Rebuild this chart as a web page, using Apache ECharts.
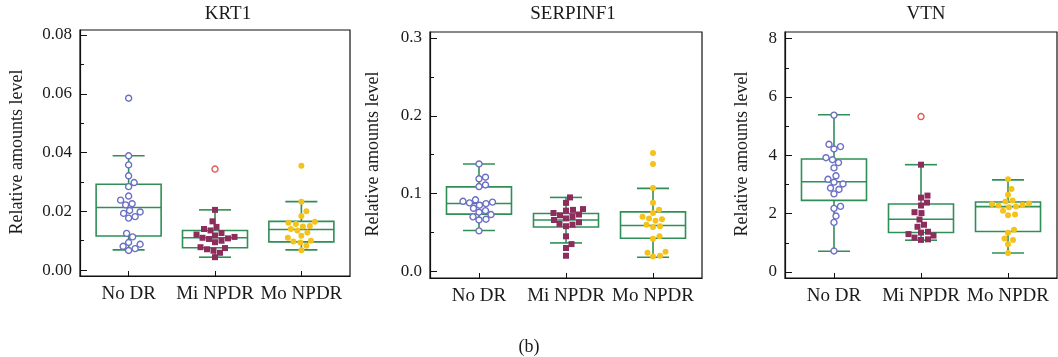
<!DOCTYPE html>
<html><head><meta charset="utf-8">
<script src="https://cdn.jsdelivr.net/npm/echarts@6/dist/echarts.min.js"></script>
<style>html,body{margin:0;padding:0;background:#fff}#c{width:1058px;height:357px}</style>
</head><body><div id="c"></div>
<script>
const categories = ['No DR', 'Mi NPDR', 'Mo NPDR'];
const panelTitles = ['KRT1', 'SERPINF1', 'VTN'];
const yAxisTitle = 'Relative amounts level';
const caption = '(b)';

// KRT1
const krt1NoDR = [0.0585, 0.0389, 0.0358, 0.0321, 0.0298, 0.0284, 0.0252, 0.0238, 0.0226, 0.0222, 0.0203, 0.0198, 0.0193, 0.0182, 0.0177, 0.0125, 0.0113, 0.0094, 0.0088, 0.0081, 0.0073, 0.0067];
const krt1MiNPDR = [0.0205, 0.0166, 0.0147, 0.0140, 0.0135, 0.0126, 0.0121, 0.0118, 0.0113, 0.0110, 0.0108, 0.0106, 0.0100, 0.0095, 0.0078, 0.0075, 0.0071, 0.0066, 0.0059, 0.0044];
const krt1MoNPDR = [0.0355, 0.0233, 0.0200, 0.0184, 0.0165, 0.0161, 0.0157, 0.0150, 0.0148, 0.0140, 0.0135, 0.0128, 0.0117, 0.0110, 0.0100, 0.0097, 0.0094, 0.0083, 0.0068];
const krt1Boxes = [[0.0069, 0.0116, 0.0213, 0.0292, 0.0389], [0.0044, 0.0076, 0.0110, 0.0135, 0.0205], [0.0069, 0.0096, 0.0138, 0.0166, 0.0233]];
const krt1Outliers = [[2, 0.0344]];
const krt1Ticks = [0, 0.02, 0.04, 0.06, 0.08];
const krt1MinorTicks = [0.01, 0.03, 0.05, 0.07];

// SERPINF1
const serpNoDR = [0.138, 0.121, 0.119, 0.111, 0.109, 0.092, 0.090, 0.089, 0.088, 0.087, 0.085, 0.081, 0.078, 0.076, 0.073, 0.070, 0.067, 0.066, 0.052];
const serpMiNPDR = [0.095, 0.088, 0.080, 0.079, 0.078, 0.075, 0.073, 0.072, 0.070, 0.068, 0.066, 0.063, 0.061, 0.060, 0.058, 0.045, 0.035, 0.030, 0.020];
const serpMoNPDR = [0.152, 0.138, 0.107, 0.088, 0.079, 0.075, 0.070, 0.068, 0.067, 0.065, 0.060, 0.058, 0.057, 0.045, 0.042, 0.025, 0.024, 0.020, 0.019];
const serpBoxes = [[0.0524, 0.0735, 0.0872, 0.1086, 0.138], [0.0365, 0.057, 0.066, 0.0743, 0.095], [0.018, 0.0425, 0.0589, 0.0764, 0.1066]];
const serpOutliers = [];
const serpTicks = [0, 0.1, 0.2, 0.3];
const serpMinorTicks = [0.05, 0.15, 0.25];

// VTN
const vtnNoDR = [5.38, 4.38, 4.30, 4.22, 3.92, 3.85, 3.75, 3.57, 3.30, 3.18, 3.08, 3.02, 2.88, 2.83, 2.68, 2.25, 2.18, 1.92, 1.70, 0.72];
const vtnMiNPDR = [3.68, 2.62, 2.55, 2.38, 2.28, 2.05, 2.02, 1.80, 1.62, 1.55, 1.38, 1.35, 1.30, 1.25, 1.18, 1.12, 1.10];
const vtnMoNPDR = [3.18, 2.85, 2.65, 2.45, 2.42, 2.35, 2.33, 2.30, 2.28, 2.25, 2.22, 2.10, 1.97, 1.95, 1.45, 1.35, 1.15, 1.10, 0.95, 0.65];
const vtnBoxes = [[0.71, 2.455, 3.095, 3.875, 5.39], [1.09, 1.355, 1.81, 2.33, 3.68], [0.65, 1.39, 2.24, 2.40, 3.16]];
const vtnOutliers = [[2, 5.33]];
const vtnTicks = [0, 2, 4, 6, 8];
const vtnMinorTicks = [1, 3, 5, 7];

const panels = [
  {groups: [krt1NoDR, krt1MiNPDR, krt1MoNPDR], boxes: krt1Boxes, outliers: krt1Outliers, ticks: krt1Ticks, minor: krt1MinorTicks,
   digits: 2, yMin: -0.0020, yMax: 0.0817, left: 80, top: 30, width: 270, height: 246, titleX: 228, nameX: 17.5},
  {groups: [serpNoDR, serpMiNPDR, serpMoNPDR], boxes: serpBoxes, outliers: serpOutliers, ticks: serpTicks, minor: serpMinorTicks,
   digits: 1, yMin: -0.0086, yMax: 0.3077, left: 430, top: 32, width: 272, height: 246, titleX: 573, nameX: 373.5},
  {groups: [vtnNoDR, vtnMiNPDR, vtnMoNPDR], boxes: vtnBoxes, outliers: vtnOutliers, ticks: vtnTicks, minor: vtnMinorTicks,
   digits: 0, yMin: -0.206, yMax: 8.23, left: 785, top: 32, width: 272, height: 246, titleX: 926, nameX: 742.5}
];

const FONT = '"Liberation Serif", "DejaVu Serif", serif';
const TXT = '#1a1a1a';
const BOX_COLOR = '#2f8f57';
const groupStyles = [
  {symbol: 'circle', color: '#ffffff', border: '#6b6fc4', borderWidth: 1.4, size: 6},
  {symbol: 'rect', color: '#8c2d5c', border: '#8c2d5c', borderWidth: 0, size: 6},
  {symbol: 'circle', color: '#f4c21b', border: '#f4c21b', borderWidth: 0, size: 6}
];
const X_MIN = 0.437, X_MAX = 3.563;

function swarmOffsets(values, pxPerUnit, d) {
  const order = values.map((v, i) => i).sort((a, b) => values[a] - values[b]);
  const placed = [];
  const off = new Array(values.length).fill(0);
  for (const i of order) {
    const y = values[i] * pxPerUnit;
    let best = 0;
    for (let s = 0; s < 400; s++) {
      const cand = s === 0 ? 0 : (s % 2 ? 1 : -1) * Math.ceil(s / 2) * 0.5;
      let ok = true;
      for (const p of placed) {
        const dx = cand - p.x, dy = y - p.y;
        if (dx * dx + dy * dy < d * d) { ok = false; break; }
      }
      if (ok) { best = cand; break; }
    }
    placed.push({x: best, y: y});
    off[i] = best;
  }
  return off;
}

const grids = [], xAxes = [], yAxes = [], series = [], graphics = [];
panels.forEach((p, k) => {
  grids.push({left: p.left, top: p.top, width: p.width, height: p.height, show: true,
    borderColor: '#111', borderWidth: 1.2, backgroundColor: 'transparent'});
  xAxes.push({type: 'value', gridIndex: k, min: X_MIN, max: X_MAX, splitLine: {show: false},
    axisLine: {show: true, onZero: false, lineStyle: {color: '#111', width: 1.2}},
    axisTick: {show: true, inside: true, length: 5, customValues: [1, 2, 3], lineStyle: {color: '#111'}},
    axisLabel: {show: true, customValues: [1, 2, 3], margin: 9, color: TXT, fontFamily: FONT, fontSize: 19,
      formatter: v => categories[Math.round(v) - 1] || ''}});
  yAxes.push({type: 'value', gridIndex: k, position: 'left', min: p.yMin, max: p.yMax, splitLine: {show: false},
    axisLine: {show: true, onZero: false, lineStyle: {color: '#111', width: 1.2}},
    axisTick: {show: true, inside: true, length: 7, customValues: p.ticks, lineStyle: {color: '#111'}},
    axisLabel: {show: true, customValues: p.ticks, margin: 8, color: TXT, fontFamily: FONT, fontSize: 17,
      formatter: v => Number(v).toFixed(p.digits)}});
  yAxes.push({type: 'value', gridIndex: k, position: 'left', min: p.yMin, max: p.yMax, splitLine: {show: false},
    axisLine: {show: false},
    axisTick: {show: true, inside: true, length: 4, customValues: p.minor, lineStyle: {color: '#111'}},
    axisLabel: {show: false}});
  const yIdx = 2 * k;
  series.push({type: 'custom', xAxisIndex: k, yAxisIndex: yIdx, z: 2,
    data: p.boxes.map((b, i) => [i + 1].concat(b)),
    encode: {x: 0, y: [1, 2, 3, 4, 5]},
    renderItem: function (params, api) {
      const c = api.value(0);
      const pLow = api.coord([c, api.value(1)]);
      const pQ1 = api.coord([c, api.value(2)]);
      const pMed = api.coord([c, api.value(3)]);
      const pQ3 = api.coord([c, api.value(4)]);
      const pHigh = api.coord([c, api.value(5)]);
      const x = pLow[0], hw = 32.5, cw = 16;
      const st = {stroke: BOX_COLOR, lineWidth: 1.6, fill: null};
      return {type: 'group', children: [
        {type: 'line', shape: {x1: x, y1: pHigh[1], x2: x, y2: pQ3[1]}, style: st},
        {type: 'line', shape: {x1: x, y1: pQ1[1], x2: x, y2: pLow[1]}, style: st},
        {type: 'line', shape: {x1: x - cw, y1: pHigh[1], x2: x + cw, y2: pHigh[1]}, style: st},
        {type: 'line', shape: {x1: x - cw, y1: pLow[1], x2: x + cw, y2: pLow[1]}, style: st},
        {type: 'rect', shape: {x: x - hw, y: pQ3[1], width: 2 * hw, height: pQ1[1] - pQ3[1]}, style: {stroke: BOX_COLOR, lineWidth: 1.6, fill: 'transparent'}},
        {type: 'line', shape: {x1: x - hw, y1: pMed[1], x2: x + hw, y2: pMed[1]}, style: st}
      ]};
    }
  });
  const pxPerUnit = p.height / (p.yMax - p.yMin);
  p.groups.forEach((vals, gi) => {
    const gs = groupStyles[gi];
    const offs = swarmOffsets(vals, pxPerUnit, 6.6);
    series.push({type: 'scatter', xAxisIndex: k, yAxisIndex: yIdx, z: 5,
      symbol: gs.symbol, symbolSize: gs.size,
      itemStyle: {color: gs.color, borderColor: gs.border, borderWidth: gs.borderWidth, opacity: 1},
      data: vals.map((v, i) => ({value: [gi + 1, v], symbolOffset: [offs[i], 0]}))});
  });
  if (p.outliers.length) {
    series.push({type: 'scatter', xAxisIndex: k, yAxisIndex: yIdx, z: 5, symbol: 'circle', symbolSize: 6,
      itemStyle: {color: '#fff', borderColor: '#d8322b', borderWidth: 1.4},
      data: p.outliers});
  }
  graphics.push({type: 'text', x: p.titleX, y: 14, style: {text: panelTitles[k], fill: TXT, font: '19px ' + FONT, textAlign: 'center', textVerticalAlign: 'middle'}});
  graphics.push({type: 'text', x: p.nameX, y: p.top + p.height / 2 - 1, rotation: Math.PI / 2,
    style: {text: yAxisTitle, fill: TXT, font: '18px ' + FONT, textAlign: 'center', textVerticalAlign: 'middle'}});
});
graphics.push({type: 'text', x: 529, y: 347, style: {text: caption, fill: TXT, font: '18px ' + FONT, textAlign: 'center', textVerticalAlign: 'middle'}});

const chart = echarts.init(document.getElementById('c'), null, {renderer: 'canvas'});
chart.setOption({animation: false, backgroundColor: '#fff', grid: grids, xAxis: xAxes, yAxis: yAxes, series: series, graphic: graphics});
</script></body></html>
